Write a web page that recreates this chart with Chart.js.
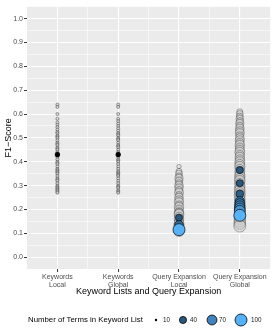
<!DOCTYPE html>
<html>
<head>
<meta charset="utf-8">
<script src="https://cdn.jsdelivr.net/npm/chart.js@4.4.1/dist/chart.umd.min.js"></script>
<style>
  html, body { margin: 0; padding: 0; background: #fff; }
</style>
</head>
<body>
<canvas id="chartId" width="277" height="332"></canvas>
<script>
// categories on the x axis
var categories = [["Keywords", "Local"], ["Keywords", "Global"], ["Query Expansion", "Local"], ["Query Expansion", "Global"]];

// keyword lists (F1 per list)
var kwLocal = [0.64, 0.63, 0.60, 0.58, 0.565, 0.555, 0.545, 0.535, 0.525, 0.52, 0.51, 0.505, 0.50, 0.49, 0.48, 0.475, 0.47, 0.46, 0.455, 0.45, 0.44, 0.435, 0.43, 0.42, 0.41, 0.40, 0.395, 0.39, 0.38, 0.37, 0.365, 0.36, 0.355, 0.35, 0.34, 0.33, 0.325, 0.32, 0.31, 0.30, 0.295, 0.29, 0.285, 0.28, 0.275, 0.27];
var kwGlobal = [0.64, 0.63, 0.60, 0.58, 0.57, 0.56, 0.55, 0.54, 0.53, 0.52, 0.515, 0.51, 0.50, 0.495, 0.49, 0.48, 0.47, 0.465, 0.46, 0.45, 0.44, 0.435, 0.43, 0.42, 0.41, 0.405, 0.40, 0.39, 0.38, 0.37, 0.36, 0.355, 0.35, 0.345, 0.34, 0.33, 0.32, 0.31, 0.30, 0.295, 0.29, 0.28, 0.275, 0.27];
var kwMeans = [0.43, 0.43];

// query expansion, grey points
var qeLocalF1 = [0.38, 0.36, 0.35, 0.34, 0.33, 0.32, 0.31, 0.30, 0.29, 0.28, 0.27, 0.26, 0.25, 0.24, 0.23, 0.22, 0.21, 0.20, 0.19, 0.185, 0.18, 0.17, 0.16, 0.15, 0.14, 0.13, 0.12, 0.11];
var qeLocalTerms = [20, 30, 40, 35, 50, 45, 40, 55, 50, 45, 60, 40, 55, 50, 60, 45, 65, 55, 50, 60, 70, 55, 65, 60, 70, 75, 80, 90];
var qeGlobalF1 = [0.61, 0.60, 0.59, 0.58, 0.57, 0.56, 0.55, 0.54, 0.53, 0.52, 0.51, 0.50, 0.49, 0.48, 0.47, 0.46, 0.45, 0.44, 0.43, 0.42, 0.41, 0.40, 0.39, 0.38, 0.37, 0.36, 0.35, 0.34, 0.33, 0.32, 0.31, 0.30, 0.29, 0.28, 0.27, 0.26, 0.25, 0.24, 0.23, 0.22, 0.21, 0.20, 0.19, 0.18, 0.17, 0.16, 0.15, 0.14, 0.13];
var qeGlobalTerms = [30, 40, 35, 45, 40, 50, 45, 55, 50, 60, 45, 55, 60, 50, 65, 55, 60, 70, 55, 65, 60, 70, 65, 75, 60, 70, 65, 75, 70, 80, 65, 75, 70, 80, 75, 85, 70, 80, 75, 85, 80, 90, 85, 80, 90, 85, 95, 90, 100];

// query expansion, coloured points
var qeLocalBlueF1 = [0.165, 0.135, 0.115];
var qeLocalBlueTerms = [40, 55, 100];
var qeGlobalBlueF1 = [0.365, 0.31, 0.265, 0.235, 0.225, 0.215, 0.205, 0.195, 0.175];
var qeGlobalBlueTerms = [40, 40, 45, 60, 65, 70, 75, 80, 100];

var legendTerms = [10, 40, 70, 100];

function radius(t) {
  return Math.sqrt(1 + (t - 10) / 90 * 35);
}
function blue(t) {
  var a = [19, 43, 67], b = [86, 177, 247];
  var k = Math.max(0, Math.min(1, (t - 10) / 90));
  return "rgb(" + Math.round(a[0] + (b[0] - a[0]) * k) + "," + Math.round(a[1] + (b[1] - a[1]) * k) + "," + Math.round(a[2] + (b[2] - a[2]) * k) + ")";
}
function pts(x, arr) {
  return arr.map(function (v) { return { x: x, y: v }; });
}
function isMajor(v, step) {
  var q = v / step;
  return Math.abs(q - Math.round(q)) < 1e-6;
}

var panelBg = {
  id: "panelBg",
  beforeDraw: function (chart) {
    var c = chart.ctx, a = chart.chartArea;
    c.save();
    c.fillStyle = "#fff";
    c.fillRect(0, 0, chart.width, chart.height);
    c.fillStyle = "#EBEBEB";
    c.fillRect(a.left, a.top, a.right - a.left, a.bottom - a.top);
    c.restore();
  },
  afterDraw: function (chart) {
    // legend at the bottom
    var c = chart.ctx;
    var y = 320;
    var keyX = [156, 183, 212, 241];
    var labX = [163, 190, 219, 251];
    c.save();
    c.fillStyle = "#000";
    c.font = '7.8px "Liberation Sans", Arial, sans-serif';
    c.textBaseline = "middle";
    c.fillText("Number of Terms in Keyword List", 28, y);
    c.font = '6.3px "Liberation Sans", Arial, sans-serif';
    for (var i = 0; i < legendTerms.length; i++) {
      var t = legendTerms[i];
      c.beginPath();
      c.arc(keyX[i], y, i === 0 ? 1.2 : radius(t), 0, Math.PI * 2);
      c.fillStyle = i === 0 ? "#000" : blue(t);
      c.fill();
      if (i > 0) {
        c.lineWidth = 0.8;
        c.strokeStyle = "#000";
        c.stroke();
      }
      c.fillStyle = "#222";
      c.fillText(String(t), labX[i], y);
    }
    c.restore();
  }
};

var greyFill = "rgba(205,205,205,0.45)";
var greyLine = "rgba(40,40,40,0.45)";
var kwFill = "rgba(215,215,215,0.7)";
var kwLine = "rgba(60,60,60,0.75)";

var chrt = document.getElementById("chartId").getContext("2d");
var chart = new Chart(chrt, {
  type: "scatter",
  data: {
    datasets: [
      {
        label: "means",
        data: [{ x: 0, y: kwMeans[0] }, { x: 1, y: kwMeans[1] }],
        pointRadius: 2.6,
        backgroundColor: "#000",
        borderColor: "#000",
        borderWidth: 0
      },
      {
        label: "qe local terms",
        data: pts(2, qeLocalBlueF1),
        pointRadius: qeLocalBlueTerms.map(radius),
        backgroundColor: qeLocalBlueTerms.map(blue),
        borderColor: "rgba(0,0,0,0.8)",
        borderWidth: 0.8
      },
      {
        label: "qe global terms",
        data: pts(3, qeGlobalBlueF1),
        pointRadius: qeGlobalBlueTerms.map(radius),
        backgroundColor: qeGlobalBlueTerms.map(blue),
        borderColor: "rgba(0,0,0,0.8)",
        borderWidth: 0.8
      },
      {
        label: "kw local",
        data: pts(0, kwLocal),
        pointRadius: 1.5,
        backgroundColor: kwFill,
        borderColor: kwLine,
        borderWidth: 0.7
      },
      {
        label: "kw global",
        data: pts(1, kwGlobal),
        pointRadius: 1.5,
        backgroundColor: kwFill,
        borderColor: kwLine,
        borderWidth: 0.7
      },
      {
        label: "qe local",
        data: pts(2, qeLocalF1),
        pointRadius: qeLocalTerms.map(radius),
        backgroundColor: greyFill,
        borderColor: greyLine,
        borderWidth: 0.8
      },
      {
        label: "qe global",
        data: pts(3, qeGlobalF1),
        pointRadius: qeGlobalTerms.map(radius),
        backgroundColor: greyFill,
        borderColor: greyLine,
        borderWidth: 0.8
      }
    ]
  },
  options: {
    responsive: false,
    devicePixelRatio: 1,
    animation: false,
    events: [],
    layout: { padding: { left: 0, top: 4, right: 2, bottom: 30 } },
    plugins: { legend: { display: false }, tooltip: { enabled: false } },
    scales: {
      x: {
        type: "linear",
        min: -0.5,
        max: 3.5,
        afterFit: function (s) { s.height = 33; },
        afterBuildTicks: function (s) {
          var t = [];
          for (var i = 0; i <= 6; i++) t.push({ value: i * 0.5 });
          s.ticks = t;
        },
        border: { display: false },
        grid: {
          color: "#fff",
          lineWidth: function (ctx) { return ctx.tick && isMajor(ctx.tick.value, 1) ? 1.1 : 0.55; },
          tickColor: function (ctx) { return ctx.tick && isMajor(ctx.tick.value, 1) ? "#333" : "rgba(0,0,0,0)"; },
          tickLength: 3,
          tickWidth: 1
        },
        ticks: {
          autoSkip: false,
          maxRotation: 0,
          padding: 1,
          color: "#4D4D4D",
          font: { family: "Liberation Sans", size: 7, lineHeight: 1.15 },
          callback: function (v) { return isMajor(v, 1) ? categories[Math.round(v)] : ""; }
        },
        title: {
          display: true,
          text: "Keyword Lists and Query Expansion",
          color: "#000",
          font: { family: "Liberation Sans", size: 9 },
          padding: { top: 0, bottom: 5 }
        }
      },
      y: {
        type: "linear",
        min: -0.05,
        max: 1.05,
        afterFit: function (s) { s.width = 27; },
        afterBuildTicks: function (s) {
          var t = [];
          for (var i = 0; i <= 20; i++) t.push({ value: i * 0.05 });
          s.ticks = t;
        },
        border: { display: false },
        grid: {
          color: "#fff",
          lineWidth: function (ctx) { return ctx.tick && isMajor(ctx.tick.value, 0.1) ? 1.1 : 0.55; },
          tickColor: function (ctx) { return ctx.tick && isMajor(ctx.tick.value, 0.1) ? "#333" : "rgba(0,0,0,0)"; },
          tickLength: 3,
          tickWidth: 1
        },
        ticks: {
          autoSkip: false,
          padding: 1,
          color: "#4D4D4D",
          font: { family: "Liberation Sans", size: 7 },
          callback: function (v) { return isMajor(v, 0.1) ? v.toFixed(1) : ""; }
        },
        title: {
          display: true,
          text: "F1\u2212Score",
          color: "#000",
          font: { family: "Liberation Sans", size: 9 },
          padding: { top: 3, bottom: 0 }
        }
      }
    }
  },
  plugins: [panelBg]
});
</script>
</body>
</html>
